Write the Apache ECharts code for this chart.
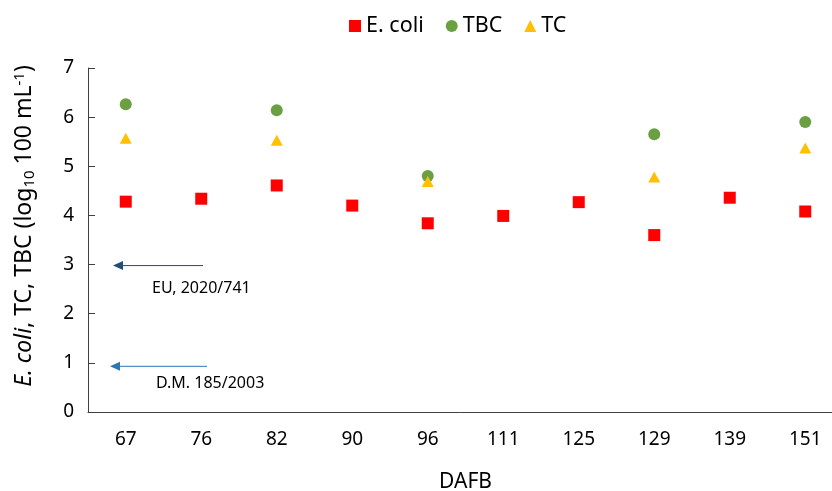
<!DOCTYPE html>
<html>
  <head>
    <meta charset='UTF-8'>
    <title>E. coli, TC, TBC</title>
    <script src="https://cdn.jsdelivr.net/npm/echarts@6/dist/echarts.min.js"></script>
    <style>
      html, body { margin: 0; padding: 0; background: #fff; }
    </style>
  </head>
  <body>
    <div id="chart" style="width: 832px;height:491px;"></div>
    <script type="text/javascript">
      // DAFB sampling days
      var days = ['67', '76', '82', '90', '96', '111', '125', '129', '139', '151'];
      // log10 100 mL-1
      var ecoli = [4.28, 4.34, 4.61, 4.20, 3.84, 3.99, 4.27, 3.60, 4.36, 4.08];
      var tbc = [6.26, null, 6.14, null, 4.80, null, null, 5.65, null, 5.90];
      var tc = [5.57, null, 5.53, null, 4.69, null, null, 4.78, null, 5.37];
      // legal limits shown as arrows
      var limits = [
        { value: 3, label: 'EU, 2020/741', color: '#1F4E79' },
        { value: 0.95, label: 'D.M. 185/2003', color: '#2E75B6' }
      ];

      var font = 'Noto Sans';
      var chart = echarts.init(document.getElementById('chart'));

      var option = {
        animation: false,
        textStyle: { fontFamily: font },
        legend: {
          top: 10,
          left: 344,
          itemWidth: 12,
          itemHeight: 12,
          itemGap: 22,
          textStyle: { fontSize: 21.5, color: '#000', fontFamily: font },
          data: ['E. coli', 'TBC', 'TC']
        },
        grid: { left: 88, top: 68, width: 755, height: 344, outerBoundsMode: 'none', containLabel: false },
        xAxis: {
          type: 'category',
          data: days,
          boundaryGap: true,
          name: 'DAFB',
          nameLocation: 'middle',
          nameGap: 60,
          nameTextStyle: { fontSize: 21, color: '#000' },
          axisLine: { lineStyle: { color: '#404040', width: 1 } },
          axisTick: { inside: true, length: 7, lineStyle: { color: '#404040' } },
          axisLabel: { fontSize: 19, color: '#000', margin: 18 }
        },
        yAxis: {
          type: 'value',
          min: 0,
          max: 7,
          interval: 1,
          name: '{it|E. coli}, TC, TBC (log{sub|10} 100 mL{sup|-1})',
          nameLocation: 'middle',
          nameGap: 51,
          nameTextStyle: {
            fontSize: 23,
            color: '#000',
            padding: [0, 0, 0, 28],
            rich: {
              it: { fontStyle: 'italic', fontSize: 23, color: '#000' },
              sub: { fontSize: 15, color: '#000', verticalAlign: 'bottom', padding: [10, 0, 0, 0] },
              sup: { fontSize: 15, color: '#000', verticalAlign: 'top', padding: [0, 0, 10, 0] }
            }
          },
          splitLine: { show: false },
          axisLine: { show: true, lineStyle: { color: '#404040', width: 1 } },
          axisTick: { show: true, inside: true, length: 7, lineStyle: { color: '#404040' } },
          axisLabel: { fontSize: 19, color: '#000', margin: 14 }
        },
        series: [
          {
            name: 'E. coli',
            type: 'scatter',
            symbol: 'rect',
            symbolSize: 12,
            itemStyle: { color: '#FF0000', opacity: 1 },
            data: ecoli
          },
          {
            name: 'TBC',
            type: 'scatter',
            symbol: 'circle',
            symbolSize: 12,
            itemStyle: { color: '#6AA042', opacity: 1 },
            data: tbc
          },
          {
            name: 'TC',
            type: 'scatter',
            symbol: 'triangle',
            symbolSize: [12, 11],
            itemStyle: { color: '#FFC000', opacity: 1 },
            data: tc
          }
        ]
      };
      chart.setOption(option);

      // arrows pointing at the limit values on the y axis
      var graphics = [];
      limits.forEach(function (lim, i) {
        var y = chart.convertToPixel({ yAxisIndex: 0 }, lim.value) + 1;
        var x0 = i === 0 ? 203 : 207;
        var x1 = i === 0 ? 113 : 110;
        graphics.push({
          type: 'line',
          shape: { x1: x0, y1: y, x2: x1 + 6, y2: y },
          style: { stroke: lim.color, lineWidth: 1 }
        });
        graphics.push({
          type: 'polygon',
          shape: { points: [[x1, y], [x1 + 10, y - 4.5], [x1 + 10, y + 4.5]] },
          style: { fill: lim.color }
        });
        graphics.push({
          type: 'text',
          x: i === 0 ? 152 : 156,
          y: y + (i === 0 ? 23 : 17),
          style: { text: lim.label, fontSize: 16, fill: '#000', fontFamily: font, verticalAlign: 'middle' }
        });
      });
      chart.setOption({ graphic: graphics });
    </script>
  </body>
</html>
